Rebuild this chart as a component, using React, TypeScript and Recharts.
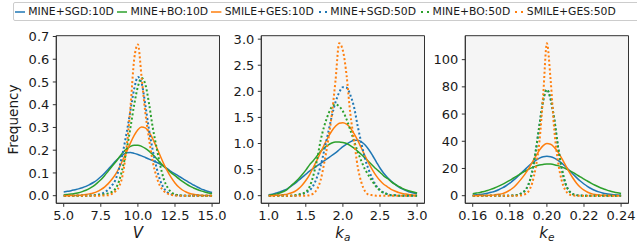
import React from "react";
import { LineChart, Line, XAxis, YAxis, CartesianGrid, ReferenceArea } from "recharts";

// panel 1: V
const vX = [5, 5.25, 5.5, 5.75, 6, 6.25, 6.5, 6.75, 7, 7.25, 7.5, 7.75, 8, 8.25, 8.5, 8.75, 9, 9.25, 9.5, 9.75, 10, 10.25, 10.5, 10.75, 11, 11.25, 11.5, 11.75, 12, 12.25, 12.5, 12.75, 13, 13.25, 13.5, 13.75, 14, 14.25, 14.5, 14.75, 15];
const vSgd10 = [0.016, 0.019, 0.022, 0.026, 0.03, 0.035, 0.041, 0.049, 0.058, 0.069, 0.083, 0.099, 0.116, 0.134, 0.152, 0.168, 0.181, 0.189, 0.19, 0.186, 0.181, 0.175, 0.168, 0.161, 0.154, 0.147, 0.139, 0.129, 0.118, 0.106, 0.096, 0.086, 0.076, 0.066, 0.056, 0.047, 0.038, 0.03, 0.024, 0.018, 0.014];
const vBo10 = [0.004, 0.005, 0.007, 0.01, 0.013, 0.018, 0.024, 0.032, 0.042, 0.055, 0.07, 0.088, 0.108, 0.128, 0.148, 0.17, 0.191, 0.206, 0.217, 0.222, 0.222, 0.217, 0.208, 0.196, 0.181, 0.164, 0.146, 0.129, 0.114, 0.1, 0.088, 0.075, 0.063, 0.052, 0.042, 0.034, 0.027, 0.021, 0.016, 0.012, 0.009];
const vGes10 = [0, 0, 0.001, 0.001, 0.002, 0.003, 0.005, 0.008, 0.012, 0.018, 0.027, 0.038, 0.053, 0.072, 0.095, 0.124, 0.16, 0.195, 0.232, 0.265, 0.29, 0.302, 0.298, 0.28, 0.25, 0.214, 0.176, 0.139, 0.107, 0.079, 0.056, 0.038, 0.025, 0.016, 0.01, 0.006, 0.004, 0.002, 0.001, 0.001, 0];
const vSgd50 = [0, 0, 0, 0, 0, 0, 0, 0.001, 0.002, 0.004, 0.008, 0.015, 0.027, 0.045, 0.072, 0.125, 0.195, 0.28, 0.375, 0.47, 0.522, 0.495, 0.4, 0.29, 0.2, 0.125, 0.068, 0.033, 0.014, 0.006, 0.002, 0.001, 0, 0, 0, 0, 0, 0, 0, 0, 0];
const vBo50 = [0, 0, 0, 0, 0, 0, 0, 0, 0.001, 0.002, 0.004, 0.006, 0.01, 0.017, 0.032, 0.068, 0.13, 0.205, 0.3, 0.4, 0.48, 0.517, 0.49, 0.405, 0.3, 0.215, 0.135, 0.072, 0.036, 0.015, 0.006, 0.002, 0.001, 0, 0, 0, 0, 0, 0, 0, 0];
const vGes50 = [0, 0, 0, 0, 0, 0, 0, 0, 0, 0, 0, 0.001, 0.002, 0.008, 0.02, 0.042, 0.1, 0.22, 0.39, 0.6, 0.665, 0.52, 0.365, 0.25, 0.15, 0.085, 0.042, 0.02, 0.009, 0.004, 0.001, 0, 0, 0, 0, 0, 0, 0, 0, 0, 0];

// panel 2: k_a
const kaX = [1, 1.05, 1.1, 1.15, 1.2, 1.25, 1.3, 1.35, 1.4, 1.45, 1.5, 1.55, 1.6, 1.65, 1.7, 1.75, 1.8, 1.85, 1.9, 1.95, 2, 2.05, 2.1, 2.15, 2.2, 2.25, 2.3, 2.35, 2.4, 2.45, 2.5, 2.55, 2.6, 2.65, 2.7, 2.75, 2.8, 2.85, 2.9, 2.95, 3];
const kaSgd10 = [0.02, 0.03, 0.05, 0.07, 0.1, 0.13, 0.18, 0.23, 0.29, 0.35, 0.41, 0.47, 0.52, 0.57, 0.62, 0.67, 0.72, 0.77, 0.82, 0.88, 0.94, 0.99, 1.03, 1.06, 1.06, 1.03, 0.97, 0.88, 0.77, 0.65, 0.53, 0.43, 0.35, 0.28, 0.22, 0.17, 0.13, 0.1, 0.07, 0.05, 0.04];
const kaBo10 = [0.01, 0.02, 0.03, 0.05, 0.08, 0.12, 0.19, 0.25, 0.32, 0.4, 0.49, 0.59, 0.67, 0.76, 0.85, 0.92, 0.97, 1.01, 1.03, 1.03, 1.02, 1.0, 0.96, 0.91, 0.85, 0.79, 0.72, 0.65, 0.58, 0.51, 0.45, 0.38, 0.33, 0.27, 0.22, 0.18, 0.14, 0.11, 0.09, 0.07, 0.05];
const kaGes10 = [0, 0, 0.01, 0.01, 0.02, 0.03, 0.05, 0.08, 0.13, 0.2, 0.29, 0.4, 0.54, 0.68, 0.83, 0.98, 1.12, 1.24, 1.33, 1.39, 1.4, 1.37, 1.3, 1.19, 1.06, 0.91, 0.76, 0.62, 0.49, 0.38, 0.29, 0.22, 0.17, 0.12, 0.09, 0.06, 0.04, 0.03, 0.02, 0.01, 0.01];
const kaSgd50 = [0, 0, 0, 0, 0, 0, 0, 0, 0.01, 0.03, 0.06, 0.1, 0.19, 0.35, 0.57, 0.88, 1.2, 1.52, 1.79, 1.98, 2.08, 2.07, 1.93, 1.7, 1.33, 1.0, 0.7, 0.49, 0.32, 0.19, 0.11, 0.06, 0.03, 0.01, 0.01, 0, 0, 0, 0, 0, 0];
const kaBo50 = [0, 0, 0, 0, 0, 0, 0, 0.01, 0.02, 0.04, 0.07, 0.17, 0.38, 0.68, 1.06, 1.34, 1.55, 1.7, 1.75, 1.71, 1.62, 1.46, 1.26, 1.05, 0.84, 0.66, 0.5, 0.38, 0.27, 0.17, 0.1, 0.05, 0.03, 0.01, 0.01, 0, 0, 0, 0, 0, 0];
const kaGes50 = [0, 0, 0, 0, 0, 0, 0, 0, 0, 0, 0, 0.01, 0.04, 0.12, 0.3, 0.64, 1.05, 1.55, 2.2, 2.92, 2.78, 2.3, 1.57, 1.07, 0.55, 0.25, 0.08, 0.02, 0.01, 0, 0, 0, 0, 0, 0, 0, 0, 0, 0, 0, 0];

// panel 3: k_e
const keX = [0.16, 0.162, 0.164, 0.166, 0.168, 0.17, 0.172, 0.174, 0.176, 0.178, 0.18, 0.182, 0.184, 0.186, 0.188, 0.19, 0.192, 0.194, 0.196, 0.198, 0.2, 0.202, 0.204, 0.206, 0.208, 0.21, 0.212, 0.214, 0.216, 0.218, 0.22, 0.222, 0.224, 0.226, 0.228, 0.23, 0.232, 0.234, 0.236, 0.238, 0.24];
const keSgd10 = [0.4, 0.6, 0.9, 1.3, 1.8, 2.5, 3.3, 4.4, 5.7, 7.3, 9.2, 11.4, 13.8, 16.4, 19.0, 21.6, 24.0, 26.0, 27.6, 28.6, 28.9, 28.6, 27.6, 26.0, 23.9, 21.4, 18.7, 16.0, 13.3, 10.8, 8.6, 6.7, 5.1, 3.8, 2.8, 2.0, 1.4, 1.0, 0.7, 0.5, 0.3];
const keBo10 = [1.4, 1.9, 2.4, 3.1, 3.8, 4.8, 5.8, 7.0, 8.3, 9.8, 11.3, 13.0, 14.6, 16.3, 17.8, 19.3, 20.6, 21.7, 22.5, 23.0, 23.3, 23.2, 22.8, 22.1, 21.2, 20.0, 18.6, 17.1, 15.5, 13.8, 12.2, 10.6, 9.1, 7.7, 6.4, 5.3, 4.3, 3.4, 2.7, 2.1, 1.6];
const keGes10 = [0, 0, 0.1, 0.1, 0.2, 0.3, 0.6, 1.0, 1.5, 2.5, 4.0, 6.0, 8.8, 12.0, 15.5, 19.5, 24.3, 29.0, 33.5, 36.8, 38.3, 37.8, 35.5, 32.0, 27.5, 22.5, 17.5, 13.0, 9.2, 6.2, 4.0, 2.5, 1.5, 0.9, 0.5, 0.3, 0.2, 0.1, 0, 0, 0];
const keSgd50 = [0, 0, 0, 0, 0, 0, 0, 0, 0, 0, 0, 0.2, 0.5, 1.5, 3.5, 8, 17, 33, 52, 70, 78, 71, 56, 36, 20, 9, 3.5, 1.2, 0.4, 0.1, 0, 0, 0, 0, 0, 0, 0, 0, 0, 0, 0];
const keBo50 = [0, 0, 0, 0, 0, 0, 0, 0, 0, 0, 0, 0.2, 0.5, 1.5, 3.5, 8, 17, 33, 52, 70, 78, 71, 56, 36, 20, 9, 3.5, 1.2, 0.4, 0.1, 0, 0, 0, 0, 0, 0, 0, 0, 0, 0, 0];
const keGes50 = [0, 0, 0, 0, 0, 0, 0, 0, 0, 0, 0, 0, 0, 0.2, 1, 3, 9, 21, 40, 74, 112, 85, 48, 25, 11, 4, 1, 0.2, 0, 0, 0, 0, 0, 0, 0, 0, 0, 0, 0, 0, 0];

const vXTicks = [5, 7.5, 10, 12.5, 15];
const vYTicks = [0, 0.1, 0.2, 0.3, 0.4, 0.5, 0.6, 0.7];
const kaXTicks = [1, 1.5, 2, 2.5, 3];
const kaYTicks = [0, 0.5, 1, 1.5, 2, 2.5, 3];
const keXTicks = [0.16, 0.18, 0.2, 0.22, 0.24];
const keYTicks = [0, 20, 40, 60, 80, 100];

const SERIES = [
  { key: "sgd10", name: "MINE+SGD:10D", color: "#1f77b4", dotted: false },
  { key: "bo10", name: "MINE+BO:10D", color: "#2ca02c", dotted: false },
  { key: "ges10", name: "SMILE+GES:10D", color: "#ff7f0e", dotted: false },
  { key: "sgd50", name: "MINE+SGD:50D", color: "#1f77b4", dotted: true },
  { key: "bo50", name: "MINE+BO:50D", color: "#2ca02c", dotted: true },
  { key: "ges50", name: "SMILE+GES:50D", color: "#ff7f0e", dotted: true },
];

const makeRows = (xs: number[], cols: number[][]) =>
  xs.map((x, i) => ({
    x,
    sgd10: cols[0][i],
    bo10: cols[1][i],
    ges10: cols[2][i],
    sgd50: cols[3][i],
    bo50: cols[4][i],
    ges50: cols[5][i],
  }));

const vRows = makeRows(vX, [vSgd10, vBo10, vGes10, vSgd50, vBo50, vGes50]);
const kaRows = makeRows(kaX, [kaSgd10, kaBo10, kaGes10, kaSgd50, kaBo50, kaGes50]);
const keRows = makeRows(keX, [keSgd10, keBo10, keGes10, keSgd50, keBo50, keGes50]);

const INK = "#1a1a1a";
const SPINE = "#333";
const FONT = "DejaVu Sans";
const DOT_W = 2;
const DOT_DASH = "2 2.3";

const XLabel = (props: any) => {
  const vb = props.viewBox || {};
  return (
    <text
      x={vb.x + vb.width / 2}
      y={vb.y + 34.3}
      textAnchor="middle"
      fontSize={15}
      fontStyle="italic"
      fontFamily={FONT}
      fill={INK}
    >
      {props.name}
      {props.sub ? (
        <tspan fontSize={10.5} dy={3}>
          {props.sub}
        </tspan>
      ) : null}
    </text>
  );
};

const YLabel = (props: any) => {
  const vb = props.viewBox || {};
  const x = vb.x + 18;
  const y = vb.y + vb.height / 2;
  return (
    <text
      x={x}
      y={y}
      transform={`rotate(-90, ${x}, ${y})`}
      textAnchor="middle"
      fontSize={13.6}
      fontFamily={FONT}
      fill={INK}
    >
      Frequency
    </text>
  );
};

function Panel(p: any) {
  return (
    <div style={{ position: "absolute", left: p.left, top: 0 }}>
      <LineChart
        width={226.5}
        height={243}
        data={p.rows}
        margin={{ top: 35.7, right: 7, bottom: 0, left: 0 }}
      >
        <CartesianGrid fill="#f5f5f5" horizontal={false} vertical={false} />
        <XAxis
          dataKey="x"
          type="number"
          domain={p.xDomain}
          ticks={p.xTicks}
          interval={0}
          allowDataOverflow
          tickFormatter={p.xFmt}
          height={39.7}
          tickSize={3.5}
          tickMargin={3.5}
          stroke={SPINE}
          tick={{ fill: INK, fontSize: 13, fontFamily: FONT }}
          label={<XLabel name={p.xName} sub={p.xSub} />}
        />
        <YAxis
          type="number"
          domain={p.yDomain}
          ticks={p.yTicks}
          interval={0}
          allowDataOverflow
          tickFormatter={p.yFmt}
          width={56.3}
          tickSize={3.5}
          tickMargin={3.5}
          stroke={SPINE}
          tick={{ fill: INK, fontSize: 13, fontFamily: FONT }}
          label={p.yLabel ? <YLabel /> : undefined}
        />
        <ReferenceArea
          x1={p.xDomain[0]}
          x2={p.xDomain[1]}
          y1={p.yDomain[0]}
          y2={p.yDomain[1]}
          fill="none"
          fillOpacity={0}
          stroke={SPINE}
          strokeWidth={1}
          ifOverflow="visible"
        />
        {SERIES.map((s) => (
          <Line
            key={s.key}
            type="monotone"
            dataKey={s.key}
            name={s.name}
            stroke={s.color}
            strokeWidth={s.dotted ? DOT_W : 1.5}
            strokeDasharray={s.dotted ? DOT_DASH : undefined}
            dot={false}
            activeDot={false}
            isAnimationActive={false}
          />
        ))}
      </LineChart>
    </div>
  );
}

function Legend() {
  return (
    <div
      style={{
        position: "absolute",
        left: 12.7,
        top: 2,
        height: 17,
        width: 640,
        border: "1px solid #cccccc",
        borderRadius: 2,
        background: "rgba(255,255,255,0.8)",
        display: "flex",
        alignItems: "center",
        paddingLeft: 1,
        fontFamily: FONT,
        fontSize: 10.8,
        color: INK,
        whiteSpace: "nowrap",
      }}
    >
      {SERIES.map((s) => (
        <div key={s.key} style={{ display: "flex", alignItems: "center", marginRight: 3 }}>
          <svg width={10.4} height={10} style={{ marginRight: 3.2 }}>
            <line
              x1={0}
              y1={5}
              x2={10.4}
              y2={5}
              stroke={s.color}
              strokeWidth={s.dotted ? DOT_W : 1.5}
              strokeDasharray={s.dotted ? "2 4" : undefined}
              strokeDashoffset={s.dotted ? -2 : undefined}
            />
          </svg>
          <span>{s.name}</span>
        </div>
      ))}
    </div>
  );
}

export default function App() {
  return (
    <div
      style={{
        position: "absolute",
        left: 0,
        top: 0,
        width: 637,
        height: 243,
        overflow: "hidden",
        background: "#ffffff",
        fontFamily: FONT,
      }}
    >
      <Panel
        left={0}
        rows={vRows}
        xDomain={[4.5, 15.5]}
        xTicks={vXTicks}
        xFmt={(v: number) => v.toFixed(1)}
        yDomain={[-0.0335, 0.7035]}
        yTicks={vYTicks}
        yFmt={(v: number) => v.toFixed(1)}
        xName="V"
        yLabel
      />
      <Panel
        left={204.5}
        rows={kaRows}
        xDomain={[0.9, 3.1]}
        xTicks={kaXTicks}
        xFmt={(v: number) => v.toFixed(1)}
        yDomain={[-0.146, 3.066]}
        yTicks={kaYTicks}
        yFmt={(v: number) => v.toFixed(1)}
        xName="k"
        xSub="a"
      />
      <Panel
        left={409}
        rows={keRows}
        xDomain={[0.156, 0.244]}
        xTicks={keXTicks}
        xFmt={(v: number) => v.toFixed(2)}
        yDomain={[-5.6, 117.6]}
        yTicks={keYTicks}
        yFmt={(v: number) => String(Math.round(v))}
        xName="k"
        xSub="e"
      />
      <Legend />
    </div>
  );
}
